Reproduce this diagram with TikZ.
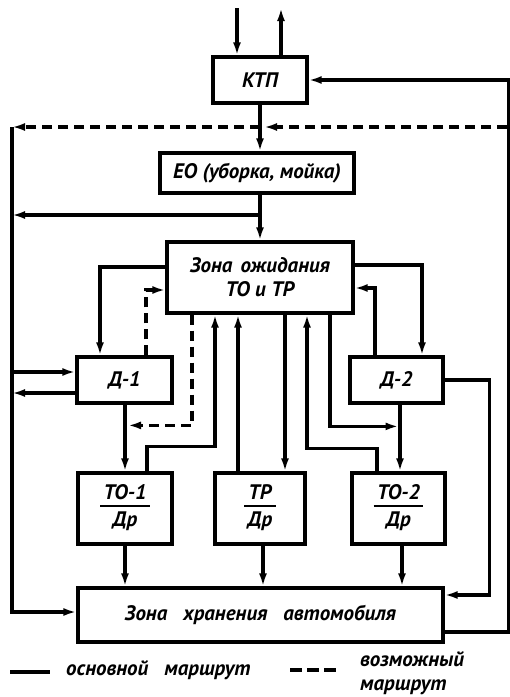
\documentclass[tikz,border=0pt]{standalone}
\usepackage{fontspec}
\setmainfont{PT Sans}
\usetikzlibrary{arrows.meta,calc}
\newcommand{\lbl}{\fontsize{21}{24}\selectfont\bfseries\itshape}
\tikzset{
  box/.style={draw, line width=3.2pt, inner sep=0pt, font=\lbl, align=center},
  ln/.style={line width=3.2pt},
  arr/.style={ln, -{Latex[length=13pt,width=8pt]}},
  dsh/.style={line width=3.2pt, dash pattern=on 10pt off 6pt},
  darr/.style={dsh, -{Latex[length=13pt,width=8pt]}},
  legtxt/.style={font=\lbl, inner sep=0pt, align=left}
}
\setlength{\arrayrulewidth}{1.8pt}
\begin{document}
\begin{tikzpicture}[x=1pt,y=-1pt]
\useasboundingbox[fill=white] (0,0) rectangle (510,697);
% nodes
\node[box, minimum width=94pt, minimum height=46pt] (ktp) at (260,80) {КТП};
\node[box, minimum width=194pt, minimum height=40pt] (eo) at (257,173) {ЕО (уборка, мойка)};
\node[box, minimum width=186pt, minimum height=71pt] (zone) at (260,277.5) {Зона\hspace{8pt}ожидания\\ТО и ТР};
\node[box, minimum width=95pt, minimum height=46pt] (d1) at (124.5,380) {Д-1};
\node[box, minimum width=93pt, minimum height=46pt] (d2) at (396.5,380) {Д-2};
\node[box, minimum width=94pt, minimum height=71pt] (to1) at (125,508.5) {\begin{tabular}{@{\,}c@{\,}}ТО-1\\[-2pt]\hline\rule{0pt}{20pt}Др\end{tabular}};
\node[box, minimum width=90pt, minimum height=71pt] (tp) at (260,508.5) {\begin{tabular}{@{\,}c@{\,}}ТР\\[-2pt]\hline\rule{0pt}{20pt}Др\end{tabular}};
\node[box, minimum width=93pt, minimum height=71pt] (to2) at (398.5,508.5) {\begin{tabular}{@{\,}c@{\,}}ТО-2\\[-2pt]\hline\rule{0pt}{20pt}Др\end{tabular}};
\node[box, minimum width=365pt, minimum height=54pt] (stor) at (260.5,615) {Зона\hspace{16pt}хранения\hspace{16pt}автомобиля};
% free ends
\coordinate (inTop) at (237,8);
\coordinate (outTop) at (281,8);
\coordinate (dR) at (507,127);
\coordinate (dM) at (264,127);
\coordinate (dL) at (12,127);
\coordinate (br) at (260,215);
% top
\draw[arr] (inTop) -- ([xshift=-23pt]ktp.north);
\draw[arr] ([xshift=21pt]ktp.north) -- (outTop);
\draw[arr] (ktp.south) -- (ktp.south |- eo.north);
% right loop
\draw[arr] ([yshift=-17pt]stor.east) -- ++(64,0) |- (ktp.east);
% dashed top
\draw[darr] (dR) -- (dM);
\draw[darr] (ktp.south |- dR) -- (dL);
% left vertical
\draw[arr] (dL) |- ([yshift=3pt]stor.west);
% EO to zone
\draw[arr] (zone.north |- eo.south) -- (zone.north);
\draw[arr] (br) -- (br -| dL);
% D-1
\draw[arr] ([yshift=10.5pt]zone.west) -| ([xshift=-24.5pt]d1.north);
\draw[darr] ([xshift=21.5pt]d1.north) |- ([yshift=-12.5pt]zone.west);
\draw[arr] ([yshift=8pt]d1.west -| dL) -- ([yshift=8pt]d1.west);
\draw[arr] ([yshift=-13pt]d1.west) -- ([yshift=-13pt]d1.west -| dL);
\draw[arr] (to1.north |- d1.south) -- (to1.north);
\draw[darr] ([xshift=-68pt]zone.south) |- ([xshift=3pt,yshift=46pt]to1.north);
\draw[arr] ([xshift=22pt]to1.north) -- ++(0,-25) -| ([xshift=-45pt]zone.south);
% TP
\draw[arr] ([xshift=-22pt]tp.north) -- ([xshift=-22pt]zone.south);
\draw[arr] ([xshift=25pt]zone.south) -- ([xshift=25pt]tp.north);
% TO-2 / D-2
\draw[arr] ([xshift=-21.5pt]to2.north) -- ++(0,-23) -| ([xshift=47pt]zone.south);
\draw[arr] ([xshift=70pt]zone.south) |- ([xshift=0pt,yshift=45pt]to2.north);
\draw[arr] ([yshift=12.5pt]zone.east) -| ([xshift=25.5pt]d2.north);
\draw[arr] ([xshift=-21.5pt]d2.north) |- ([yshift=-10.5pt]zone.east);
\draw[arr] (d2.east) -- ++(45,0) |- ([yshift=20pt]stor.east);
\draw[arr] ([xshift=3.5pt]d2.south) -- ([xshift=1.5pt]to2.north);
% to storage
\draw[arr] (to1.south) -- (to1.south |- stor.north);
\draw[arr] ([xshift=3pt]tp.south) -- ([xshift=3pt]tp.south |- stor.north);
\draw[arr] ([xshift=3.5pt]to2.south) -- ([xshift=3.5pt]to2.south |- stor.north);
% legend
\coordinate (l1a) at (10,672);
\coordinate (l1b) at (50,672);
\coordinate (l2a) at (290,670);
\coordinate (l2b) at (336,670);
\draw[ln] (l1a) -- (l1b);
\draw[dsh, dash pattern=on 12pt off 5pt] (l2a) -- (l2b);
\node[legtxt, anchor=west] (lt1) at (66,670) {основной\hspace{16pt}маршрут};
\node[legtxt, anchor=west] (lt2) at (360,673) {возможный\\маршрут};
\end{tikzpicture}
\end{document}
